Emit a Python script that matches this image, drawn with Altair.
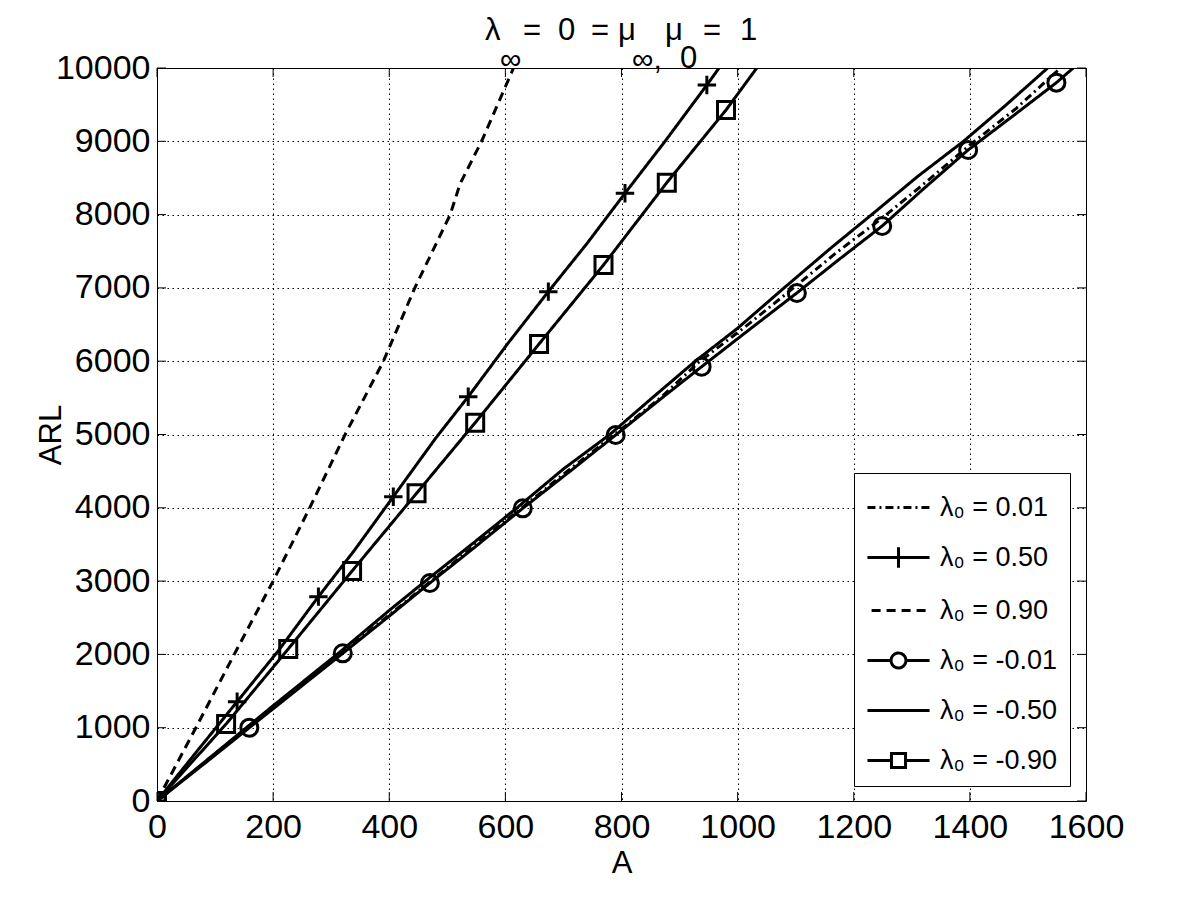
import altair as alt
import pandas as pd

# ---------------- data ----------------
series_labels = ["λ₀ = 0.01", "λ₀ = 0.50", "λ₀ = 0.90", "λ₀ = -0.01", "λ₀ = -0.50", "λ₀ = -0.90"]

x_ticks = [0, 200, 400, 600, 800, 1000, 1200, 1400, 1600]
y_ticks = [0, 1000, 2000, 3000, 4000, 5000, 6000, 7000, 8000, 9000, 10000]

# λ0 = 0.01 (dash-dot)
a_p001 = [0, 100, 200, 315, 400, 480, 560, 630, 710, 790, 870, 935, 1010, 1090, 1170, 1250, 1330, 1400, 1480, 1556]
arl_p001 = [0, 640, 1270, 2000, 2540, 3050, 3570, 4010, 4520, 5010, 5520, 6000, 6450, 6960, 7480, 7960, 8480, 8950, 9450, 10000]

# λ0 = 0.50 (solid, plus markers)
a_p050 = [0, 70, 138, 210, 278, 340, 407, 480, 536, 605, 674, 740, 806, 875, 947, 968]
arl_p050 = [0, 690, 1355, 2060, 2788, 3420, 4152, 4950, 5516, 6250, 6949, 7600, 8291, 9000, 9768, 10000]

# λ0 = 0.90 (dashed)
a_p090 = [0, 67, 133, 200, 263, 324, 390, 444, 505, 522, 559, 614]
arl_p090 = [0, 1000, 2000, 3000, 4000, 5000, 6000, 7000, 8000, 8420, 9000, 10000]

# λ0 = -0.01 (solid, circle markers)
a_m001 = [0, 80, 159, 240, 320, 395, 470, 550, 630, 710, 790, 865, 938, 1020, 1102, 1175, 1249, 1320, 1397, 1475, 1549, 1578]
arl_m001 = [0, 500, 1000, 1510, 2015, 2490, 2974, 3480, 3993, 4490, 4993, 5470, 5925, 6430, 6931, 7390, 7845, 8350, 8882, 9350, 9800, 10000]

# λ0 = -0.50 (solid)
a_m050 = [0, 100, 200, 310, 400, 470, 545, 620, 700, 780, 850, 927, 1000, 1080, 1160, 1234, 1310, 1389, 1460, 1534]
arl_m050 = [0, 650, 1300, 2000, 2600, 3050, 3520, 4000, 4530, 5000, 5480, 6000, 6450, 7000, 7540, 8020, 8520, 9000, 9480, 10000]

# λ0 = -0.90 (solid, square markers)
a_m090 = [0, 119, 226, 336, 447, 548, 658, 769, 878, 980, 1033]
arl_m090 = [0, 1050, 2074, 3138, 4198, 5161, 6235, 7313, 8436, 9427, 10000]

# marker positions
plus_a = [0, 138, 278, 407, 536, 674, 806, 947]
plus_arl = [0, 1355, 2788, 4152, 5516, 6949, 8291, 9768]
circ_a = [0, 159, 320, 470, 630, 790, 938, 1102, 1249, 1397, 1549]
circ_arl = [0, 1000, 2015, 2974, 3993, 4993, 5925, 6931, 7845, 8882, 9800]
sq_a = [0, 119, 226, 336, 447, 548, 658, 769, 878, 980]
sq_arl = [0, 1050, 2074, 3138, 4198, 5161, 6235, 7313, 8436, 9427]

# ---------------- tables ----------------
line_sets = [(a_p001, arl_p001), (a_p050, arl_p050), (a_p090, arl_p090),
             (a_m001, arl_m001), (a_m050, arl_m050), (a_m090, arl_m090)]
rows = []
for lab, (aa, rr) in zip(series_labels, line_sets):
    for i, (a, r) in enumerate(zip(aa, rr)):
        rows.append({"series": lab, "A": a, "ARL": r, "idx": i})
lines_df = pd.DataFrame(rows)

plus_df = pd.DataFrame({"A": plus_a, "ARL": plus_arl})
circ_df = pd.DataFrame({"A": circ_a, "ARL": circ_arl})
sq_df = pd.DataFrame({"A": sq_a, "ARL": sq_arl})
xt_df = pd.DataFrame({"A": x_ticks})
yt_df = pd.DataFrame({"ARL": y_ticks})

# ---------------- styling ----------------
FONT = "Liberation Sans"
W, H = 929, 733

x_scale = alt.Scale(domain=[0, 1600], nice=False, zero=False)
y_scale = alt.Scale(domain=[0, 10000], nice=False, zero=False)

x_axis = alt.Axis(values=x_ticks, format="d", title="A", grid=True, ticks=False, domain=False,
                  labelFontSize=34, labelPadding=9, labelFlush=False, labelOverlap=False,
                  titleFontSize=31, titlePadding=4)
y_axis = alt.Axis(values=y_ticks, format="d", title="ARL", grid=True, ticks=False, domain=False,
                  labelFontSize=34, labelPadding=7, labelFlush=False, labelOverlap=False,
                  titleFontSize=31, titlePadding=-12)

dashes = [[8, 4, 2, 4], [1, 0], [9, 6], [1, 0], [1, 0], [1, 0]]
legend_paths = [
    "M-1.5,0L1.5,0",
    "M-1.5,0L1.5,0M0,-0.5L0,0.5",
    "M-1.3,0L1.5,0",
    "M-1.5,0L-0.36,0M0.36,0L1.5,0M0.36,0A0.36,0.36 0 1,1 -0.36,0A0.36,0.36 0 1,1 0.36,0",
    "M-1.5,0L1.5,0",
    "M-1.5,0L-0.34,0M0.34,0L1.5,0M-0.34,-0.34L0.34,-0.34L0.34,0.34L-0.34,0.34Z",
]

leg = alt.Legend(title=None, orient="none", legendX=697, legendY=405,
                 symbolSize=1714, symbolStrokeWidth=3, symbolOffset=10,
                 labelFontSize=27, labelFont=FONT, labelColor="black", labelOffset=19,
                 padding=12, rowPadding=14, strokeColor="black", fillColor="white",
                 symbolStrokeColor="black", symbolFillColor="transparent")

dash_scale = alt.Scale(domain=series_labels, range=dashes)
shape_scale = alt.Scale(domain=series_labels, range=legend_paths)

X = alt.X("A:Q", scale=x_scale, axis=x_axis)
Y = alt.Y("ARL:Q", scale=y_scale, axis=y_axis)

# ---------------- layers ----------------
legend_layer = alt.Chart(lines_df).transform_filter("false").mark_point(
    filled=False, color="black", strokeWidth=3, opacity=1).encode(
    x=X, y=Y,
    shape=alt.Shape("series:N", scale=shape_scale, legend=leg),
    strokeDash=alt.StrokeDash("series:N", scale=dash_scale, legend=leg),
)

lines = alt.Chart(lines_df).mark_line(color="black", strokeWidth=3, clip=True).encode(
    x=X, y=Y,
    detail="series:N",
    order="idx:Q",
    strokeDash=alt.StrokeDash("series:N", scale=dash_scale, legend=leg),
)

def markers(df, shape, size):
    return alt.Chart(df).mark_point(shape=shape, size=size, filled=False, color="black",
                                    strokeWidth=3, opacity=1, clip=True).encode(x=X, y=Y)

plus_layer = markers(plus_df, "M-1,0L1,0M0,-1L0,1", 340)
circ_layer = markers(circ_df, "circle", 290)
sq_layer = markers(sq_df, "square", 289)

TL = 9
tick_layers = [
    alt.Chart(xt_df).mark_rule(color="black", strokeWidth=1).encode(
        x=X, y=alt.value(H), y2=alt.value(H - TL)),
    alt.Chart(xt_df).mark_rule(color="black", strokeWidth=1).encode(
        x=X, y=alt.value(0), y2=alt.value(TL)),
    alt.Chart(yt_df).mark_rule(color="black", strokeWidth=1).encode(
        y=Y, x=alt.value(0), x2=alt.value(TL)),
    alt.Chart(yt_df).mark_rule(color="black", strokeWidth=1).encode(
        y=Y, x=alt.value(W), x2=alt.value(W - TL)),
]

# title "λ∞ = 0 = μ∞, μ0 = 1" built from pieces (absolute page px -> view px)
OX, OY = 157, 68
title_pieces = [
    ("λ", 485, 40, 31), ("∞", 500, 69, 30), ("=", 523, 40, 31), ("0", 558, 40, 31),
    ("=", 591, 40, 31), ("μ", 618, 40, 31), ("∞,", 632, 69, 30), ("μ", 665, 40, 31),
    ("0", 680, 68, 31), ("=", 703, 40, 31), ("1", 740, 40, 31),
]
one = pd.DataFrame({"k": [0]})
title_layers = [
    alt.Chart(one).mark_text(text=t, font=FONT, fontSize=fs, color="black", align="left",
                             baseline="alphabetic").encode(x=alt.value(px - OX), y=alt.value(py - OY))
    for t, px, py, fs in title_pieces
]

chart = alt.layer(
    legend_layer, *tick_layers, lines, plus_layer, circ_layer, sq_layer, *title_layers
).properties(
    width=W, height=H,
    autosize=alt.AutoSizeParams(type="none"),
    padding={"left": 157, "top": 68, "right": 1200 - 157 - W, "bottom": 900 - 68 - H},
    background="white",
).configure_view(
    stroke="black", strokeWidth=1
).configure_axis(
    labelFont=FONT, titleFont=FONT, labelColor="black", titleColor="black",
    titleFontWeight="normal", gridColor="black", gridOpacity=1, gridWidth=1, gridDash=[1.5, 3.5],
)

chart.save("out.html", embed_options={"renderer": "svg", "actions": False})
